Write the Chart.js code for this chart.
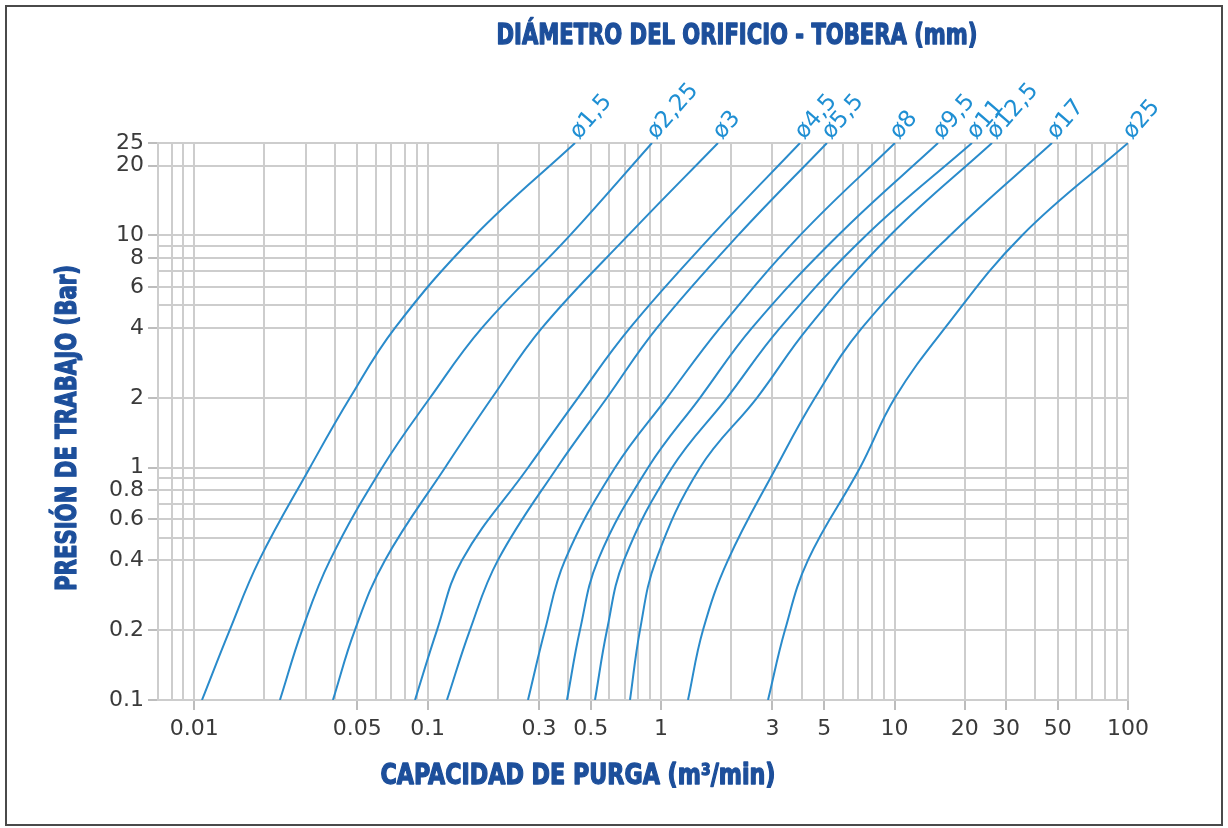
<!DOCTYPE html>
<html><head><meta charset="utf-8">
<script src="https://cdn.jsdelivr.net/npm/chart.js@4"></script>
<style>html,body{margin:0;padding:0;background:#fff}canvas{display:block}</style>
</head><body>
<canvas id="c" width="1228" height="828"></canvas>
<script>
// Working pressure levels (bar) at which each curve's capacity is read
const pressures = [0.1, 0.2, 0.4, 1, 2, 4, 10, 25];
const diameters = ['ø1,5','ø2,25','ø3','ø4,5','ø5,5','ø8','ø9,5','ø11','ø12,5','ø17','ø25'];
// Purge capacity (m3/min) per orifice diameter
const cap_1_5  = [0.0108, 0.0142, 0.0190, 0.0313, 0.0465, 0.0725, 0.1595, 0.428];
const cap_2_25 = [0.0233, 0.0290, 0.0382, 0.0638, 0.1024, 0.1709, 0.407, 0.914];
const cap_3    = [0.0393, 0.0488, 0.0657, 0.1187, 0.1887, 0.309, 0.722, 1.753];
const cap_4_5  = [0.0883, 0.1097, 0.1403, 0.2691, 0.4406, 0.736, 1.652, 3.936];
const cap_5_5  = [0.121, 0.1518, 0.2001, 0.3583, 0.5865, 0.960, 2.135, 5.135];
const cap_8    = [0.2691, 0.3182, 0.3877, 0.6346, 1.060, 1.788, 3.936, 10.04];
const cap_9_5  = [0.3953, 0.4494, 0.5367, 0.8789, 1.468, 2.451, 5.724, 15.36];
const cap_11   = [0.521, 0.5865, 0.6937, 1.1135, 1.916, 3.232, 7.545, 21.46];
const cap_12_5 = [0.736, 0.8122, 0.951, 1.468, 2.575, 4.258, 9.561, 26.15];
const cap_17   = [1.304, 1.512, 1.934, 3.106, 4.563, 7.253, 17.28, 47.25];
const cap_25   = [2.871, 3.394, 4.258, 7.112, 10.04, 16.45, 35.15, 100];
const capacities = [cap_1_5, cap_2_25, cap_3, cap_4_5, cap_5_5, cap_8, cap_9_5, cap_11, cap_12_5, cap_17, cap_25];

// Axis tick labels and grid lines
const xLabelValues = [0.01, 0.05, 0.1, 0.3, 0.5, 1, 3, 5, 10, 20, 30, 50, 100];
const xLabelTexts  = ['0.01','0.05','0.1','0.3','0.5','1','3','5','10','20','30','50','100'];
const xGridValues  = [0.007,0.008,0.009,0.01,0.02,0.03,0.04,0.05,0.06,0.07,0.08,0.09,0.1,0.2,0.3,0.4,0.5,0.6,0.7,0.8,0.9,1,2,3,4,5,6,7,8,9,10,20,30,40,50,60,70,80,90,100];
const yLabelValues = [0.1, 0.2, 0.4, 0.6, 0.8, 1, 2, 4, 6, 8, 10, 20, 25];
const yLabelTexts  = ['0.1','0.2','0.4','0.6','0.8','1','2','4','6','8','10','20','25'];
const yGridValues  = [0.1,0.2,0.4,0.5,0.6,0.7,0.8,0.9,1,2,4,5,6,7,8,9,10,20,25];

const titleTop = 'DIÁMETRO DEL ORIFICIO - TOBERA (mm)';
const titleX = 'CAPACIDAD DE PURGA (m³/min)';
const titleY = 'PRESIÓN DE TRABAJO (Bar)';

const CURVE = '#2a8bcb', LABEL = '#1f8fd3', NAVY = '#1d4f9b', GRID = '#cdcdcd';

function labelFor(values, texts, v){ const i = values.indexOf(v); return i >= 0 ? texts[i] : ''; }

const datasets = diameters.map((d, i) => ({
  label: d,
  data: pressures.map((p, k) => ({ x: capacities[i][k], y: p })),
  borderColor: CURVE, borderWidth: 2, pointRadius: 0, tension: 0.4, fill: false, showLine: true
}));

function fitText(ctx, text, cx, cy, width, font, color, rot){
  ctx.save();
  ctx.font = font; ctx.fillStyle = color; ctx.strokeStyle = color; ctx.lineWidth = 1.3; ctx.lineJoin = 'round';
  ctx.textAlign = 'center'; ctx.textBaseline = 'middle';
  const w = ctx.measureText(text).width;
  ctx.translate(cx, cy); if (rot) ctx.rotate(rot);
  ctx.scale(width / w, 1);
  ctx.fillText(text, 0, 0);
  ctx.strokeText(text, 0, 0);
  ctx.restore();
}

const deco = {
  id: 'deco',
  beforeDraw(chart){
    const ctx = chart.ctx; ctx.save(); ctx.fillStyle = '#fff'; ctx.fillRect(0,0,chart.width,chart.height); ctx.restore();
  },
  afterDatasetsDraw(chart){
    const ctx = chart.ctx;
    chart.data.datasets.forEach((ds, i) => {
      const meta = chart.getDatasetMeta(i);
      const pt = meta.data[meta.data.length - 1];
      ctx.save();
      ctx.translate(pt.x + 4, pt.y - 3);
      ctx.rotate(-49 * Math.PI / 180);
      ctx.font = '23px "DejaVu Sans"'; ctx.fillStyle = LABEL; ctx.textBaseline = 'alphabetic'; ctx.textAlign = 'left';
      ctx.fillText(ds.label, 0, 0);
      ctx.restore();
    });
    const tf = 'bold 28px "Liberation Sans Narrow", "DejaVu Sans Condensed", "Liberation Sans", sans-serif';
    fitText(ctx, titleTop, 737, 37, 481, tf, NAVY, 0);
    fitText(ctx, titleX, 578, 777, 395, tf, NAVY, 0);
    fitText(ctx, titleY, 69, 428, 326, tf, NAVY, -Math.PI/2);
    ctx.save(); ctx.strokeStyle = '#4a4a4a'; ctx.lineWidth = 2; ctx.strokeRect(6, 6, 1216, 819); ctx.restore();
  }
};

function tickCol(values){ return ctx => values.indexOf(ctx.tick.value) >= 0 ? '#bdbdbd' : 'rgba(0,0,0,0)'; }

new Chart(document.getElementById('c'), {
  type: 'scatter',
  data: { datasets },
  options: {
    responsive: false, animation: false,
    layout: { padding: { top: 143, right: 100, bottom: 68, left: 0 } },
    plugins: { legend: { display: false }, tooltip: { enabled: false } },
    scales: {
      x: {
        type: 'logarithmic', min: 0.007, max: 100,
        afterBuildTicks: s => { s.ticks = xGridValues.map(v => ({ value: v })); },
        afterFit: s => { s.height = 60; },
        grid: { color: GRID, lineWidth: 2, tickLength: 10, tickColor: tickCol(xLabelValues) },
        border: { color: GRID, width: 2 },
        ticks: { autoSkip: false, maxRotation: 0, minRotation: 0, padding: 6, color: '#3a3a3a',
                 font: { family: 'DejaVu Sans', size: 22 },
                 callback: v => labelFor(xLabelValues, xLabelTexts, v) }
      },
      y: {
        type: 'logarithmic', min: 0.1, max: 25,
        afterBuildTicks: s => { s.ticks = yGridValues.map(v => ({ value: v })); },
        afterFit: s => { s.width = 158; },
        grid: { color: GRID, lineWidth: 2, tickLength: 10, tickColor: tickCol(yLabelValues) },
        border: { color: GRID, width: 2 },
        ticks: { autoSkip: false, padding: 4, color: '#3a3a3a',
                 font: { family: 'DejaVu Sans', size: 22 },
                 callback: v => labelFor(yLabelValues, yLabelTexts, v) }
      }
    }
  },
  plugins: [deco]
});
</script>
</body></html>
